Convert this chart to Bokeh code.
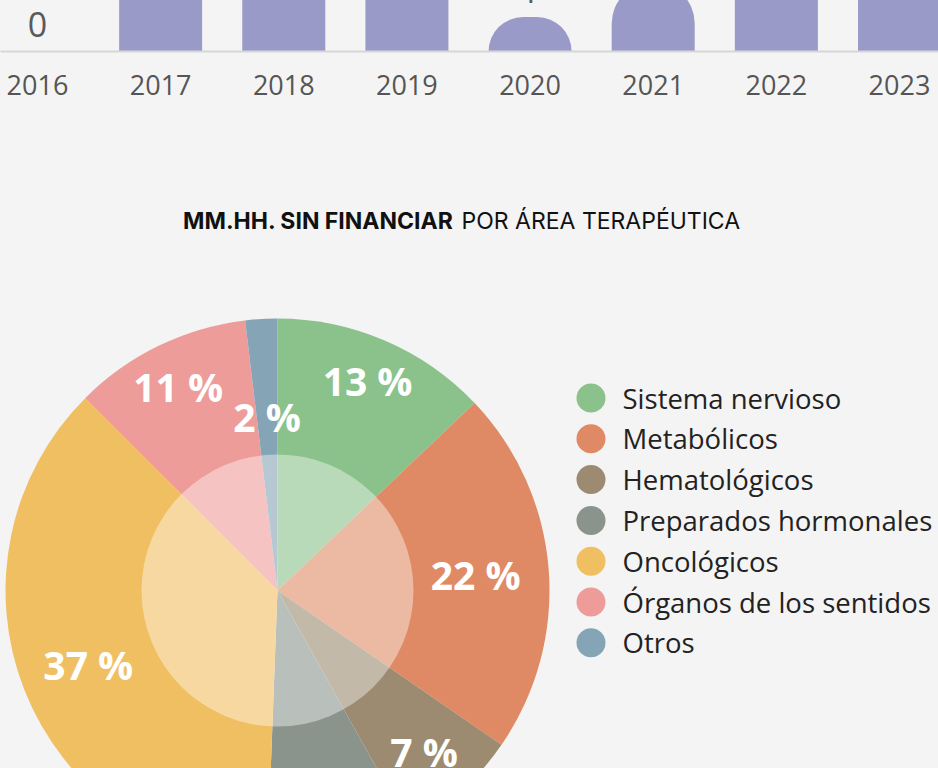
import math
from bokeh.plotting import figure
from bokeh.layouts import column
from bokeh.models import ColumnDataSource, Range1d, FixedTicker
from bokeh.embed import file_html
from bokeh.resources import INLINE
from bokeh.core.properties import value

BG = "#f4f4f4"

# ---- bar chart data (top, partly cut off) ----
years = [2016, 2017, 2018, 2019, 2020, 2021, 2022, 2023]
counts = [0, 5, 6, 4, 1, 2, 5, 6]
bar_color = "#9a9ac8"

# ---- pie data ----
areas = ["Sistema nervioso", "Metabólicos", "Hematológicos", "Preparados hormonales",
         "Oncológicos", "Órganos de los sentidos", "Otros"]
shares = [12.9, 21.7, 7.3, 8.7, 36.9, 10.6, 1.9]
area_colors = ["#8bc28b", "#df8a65", "#9c8b70", "#8a948c", "#f0bf62", "#ed9c99", "#85a5b6"]

title_bold = "MM.HH. SIN FINANCIAR"
title_rest = "POR ÁREA TERAPÉUTICA"

W = 938

# ================= bar figure (scrolled partly out of view at the top) =================
hidden = 100                 # part of the bar chart above the visible page
px_per_year = 123.14
x0 = 2016 - 37 / px_per_year
x1 = x0 + W / px_per_year
baseline_page = 51
frame_h = baseline_page + hidden
px_per_unit = 34.5
bar_h = frame_h + 71

bar = figure(width=W, height=bar_h, output_backend="svg", toolbar_location=None,
             x_range=Range1d(x0, x1), y_range=Range1d(0, frame_h / px_per_unit),
             y_axis_type=None, min_border_left=0, min_border_right=0,
             min_border_top=0, min_border_bottom=bar_h - frame_h,
             background_fill_color=BG, border_fill_color=BG, outline_line_color=None,
             margin=(-hidden, 0, 0, 0))
bar.xgrid.visible = False

bsrc = ColumnDataSource(dict(year=years, count=counts, label=[str(c) for c in counts]))
bar.vbar(x="year", top="count", width=0.674, source=bsrc, fill_color=bar_color,
         line_color=None, border_radius=(41, 41, 0, 0))
bar.text(x="year", y="count", text="label", source=bsrc, y_offset=-27,
         text_align="center", text_baseline="alphabetic",
         text_font=value("Open Sans"), text_font_size="34px", text_color="#5a5a5a")

ax = bar.xaxis[0]
ax.ticker = FixedTicker(ticks=years)
ax.major_label_text_font = "Open Sans"
ax.major_label_text_font_size = "27px"
ax.major_label_text_color = "#555555"
ax.axis_line_color = "#d6d6d6"
ax.axis_line_width = 2
ax.major_tick_line_color = None
ax.minor_tick_line_color = None
ax.major_tick_out = 0
ax.major_tick_in = 0
ax.major_label_standoff = 23

# ================= pie figure =================
cx_page, cy_page = 277, 590
top_page = bar_h - hidden
PH = 768 - top_page
R = 272
R_in = 136

pie = figure(width=W, height=PH, output_backend="svg", toolbar_location=None,
             x_range=Range1d(-cx_page, W - cx_page),
             y_range=Range1d(cy_page - (top_page + PH), cy_page - top_page),
             x_axis_type=None, y_axis_type=None, min_border=0,
             background_fill_color=BG, border_fill_color=BG, outline_line_color=None)
pie.xgrid.visible = False
pie.ygrid.visible = False

total = sum(shares)
starts, ends, lx, ly, labels = [], [], [], [], []
cum = 0.0
for s in shares:
    a0 = cum / total * 360.0
    cum += s
    a1 = cum / total * 360.0
    starts.append(math.radians(90 - a1))
    ends.append(math.radians(90 - a0))
    mid = math.radians((a0 + a1) / 2)
    # wide labels sit a little further in where the slice points sideways
    rf = 0.64 if s < 5 else 0.86 - 0.13 * math.sin(mid) ** 2
    lx.append(R * rf * math.sin(mid))
    ly.append(R * rf * math.cos(mid))
    labels.append(f"{round(s):.0f} %")

psrc = ColumnDataSource(dict(area=areas, share=shares, color=area_colors,
                             start=starts, end=ends, lx=lx, ly=ly, label=labels))
pie.wedge(x=0, y=0, radius=R, start_angle="start", end_angle="end",
          fill_color="color", line_color=None, source=psrc)
pie.circle(x=[0], y=[0], radius=R_in, fill_color="white", fill_alpha=0.4, line_color=None)
pie.text(x="lx", y="ly", text="label", source=psrc, text_align="center",
         text_baseline="middle", text_font=value("Open Sans"), text_font_style="bold",
         text_font_size="39px", text_color="white")

# legend
leg_x = 590.5 - cx_page
leg_y0 = cy_page - 397.5
step = 40.8
lsrc = ColumnDataSource(dict(
    x=[leg_x] * len(areas),
    tx=[622 - cx_page] * len(areas),
    y=[leg_y0 - i * step for i in range(len(areas))],
    area=areas, color=area_colors))
pie.scatter(x="x", y="y", size=29, marker="circle", fill_color="color", line_color=None, source=lsrc)
pie.text(x="tx", y="y", text="area", source=lsrc, text_align="left", text_baseline="middle",
         text_font=value("Open Sans"), text_font_size="27.5px", text_color="#222222")

# title
ty = cy_page - 220
pie.text(x=[453 - cx_page], y=[ty], text=[title_bold], text_align="right", text_baseline="middle",
         text_font=value("Inter"), text_font_style="bold", text_font_size="23px", text_color="#111111")
pie.text(x=[461 - cx_page], y=[ty], text=[title_rest], text_align="left", text_baseline="middle",
         text_font=value("Inter"), text_font_size="23px", text_color="#111111")

layout = column(bar, pie, spacing=0)
layout.styles = {"background-color": BG}

html = file_html(layout, INLINE)
html = html.replace("</head>", "<style>html,body{background:#f4f4f4;}</style></head>", 1)
open("out.html", "w").write(html)
